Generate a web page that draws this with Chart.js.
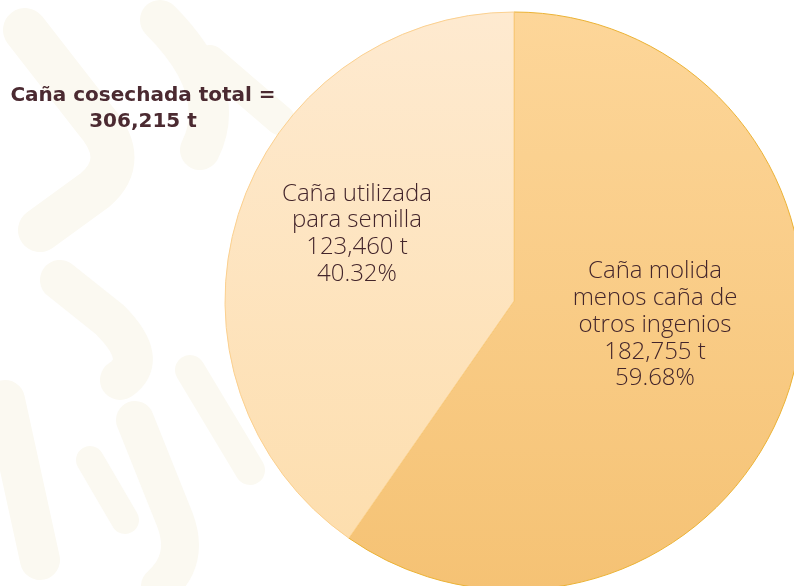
<!DOCTYPE html>
<html>
<head>
<meta charset="utf-8">
<script src="https://cdn.jsdelivr.net/npm/chart.js@4"></script>
<style>
    html, body { margin: 0; padding: 0; background: #fff; }
    #wrap { position: relative; width: 794px; height: 586px; overflow: hidden; }
    #bg { position: absolute; left: 0; top: 0; }
    #title {
        position: absolute; left: 0; top: 81px; width: 286px;
        text-align: center; font-family: "DejaVu Sans", sans-serif; font-weight: 700;
        font-size: 20px; line-height: 26px; color: #4b2a31;
    }
    canvas { position: absolute; left: 0; top: 0; }
</style>
</head>
<body>
<div id="wrap">
    <!-- very faint background pattern -->
    <svg id="bg" width="794" height="586" fill="none" stroke="#fbf9f1" stroke-linecap="round">
        <path d="M25 30 L95 120 Q130 160 95 190 L40 230" stroke-width="44"/>
        <path d="M160 20 Q230 90 200 150" stroke-width="40"/>
        <path d="M60 280 L110 320 Q150 360 120 380" stroke-width="40"/>
        <path d="M5 400 L40 560" stroke-width="40"/>
        <path d="M135 420 L175 520 Q190 560 160 586" stroke-width="38"/>
        <path d="M90 460 L125 520" stroke-width="28"/>
        <path d="M190 370 L250 470" stroke-width="30"/>
        <path d="M210 60 L280 120" stroke-width="30"/>
    </svg>
    <canvas id="pieChart" width="794" height="586"></canvas>
    <div id="title"></div>
</div>
<script>
// Data
const categories = ['Caña molida menos caña de otros ingenios', 'Caña utilizada para semilla'];
const labelLines = [
    ['Caña molida', 'menos caña de', 'otros ingenios'],
    ['Caña utilizada', 'para semilla']
];
const values = [182755, 123460];
const titleLines = ['Caña cosechada total =', '306,215 t'];

const textColor = '#43252b';
const sliceTops = ['#fdd699', '#feead0'];
const sliceBottoms = ['#f5c274', '#fdddab'];

document.getElementById('title').innerHTML = titleLines.join('<br>');

const total = values.reduce((a, b) => a + b, 0);
const fmt = v => v.toLocaleString('en-US');

// Vertical gradient for each slice
function sliceGradient(ctx) {
    const i = ctx.dataIndex;
    const g = ctx.chart.ctx.createLinearGradient(0, 12, 0, 590);
    g.addColorStop(0, sliceTops[i]);
    g.addColorStop(1, sliceBottoms[i]);
    return g;
}

// Draw the text blocks inside each slice
const sliceLabels = {
    id: 'sliceLabels',
    afterDatasetsDraw(chart) {
        const meta = chart.getDatasetMeta(0);
        const c = chart.ctx;
        const arc = meta.data[0];
        const cx = arc.x, cy = arc.y;
        const spots = [[cx + 141, cy + 24], [cx - 157, cy - 67]];
        c.save();
        c.fillStyle = textColor;
        c.font = '300 24px "Open Sans", sans-serif';
        c.textAlign = 'center';
        c.textBaseline = 'middle';
        const lh = 26.7;
        values.forEach((v, i) => {
            const lines = labelLines[i].concat([fmt(v) + ' t', (v / total * 100).toFixed(2) + '%']);
            const [x, y] = spots[i];
            const y0 = y - (lines.length - 1) * lh / 2;
            lines.forEach((t, k) => c.fillText(t, x, y0 + k * lh));
        });
        c.restore();
    }
};

new Chart(document.getElementById('pieChart'), {
    type: 'pie',
    data: {
        labels: categories,
        datasets: [{
            data: values,
            backgroundColor: sliceGradient,
            borderColor: ['#ebb235', '#fbd08f'],
            borderWidth: 1,
            radius: 289,
            clip: false,
            hoverOffset: 0
        }]
    },
    options: {
        responsive: false,
        animation: false,
        layout: { padding: { left: 234, top: 16, right: 0, bottom: 0 } },
        plugins: {
            legend: { display: false },
            tooltip: { enabled: false }
        }
    },
    plugins: [sliceLabels]
});
</script>
</body>
</html>
